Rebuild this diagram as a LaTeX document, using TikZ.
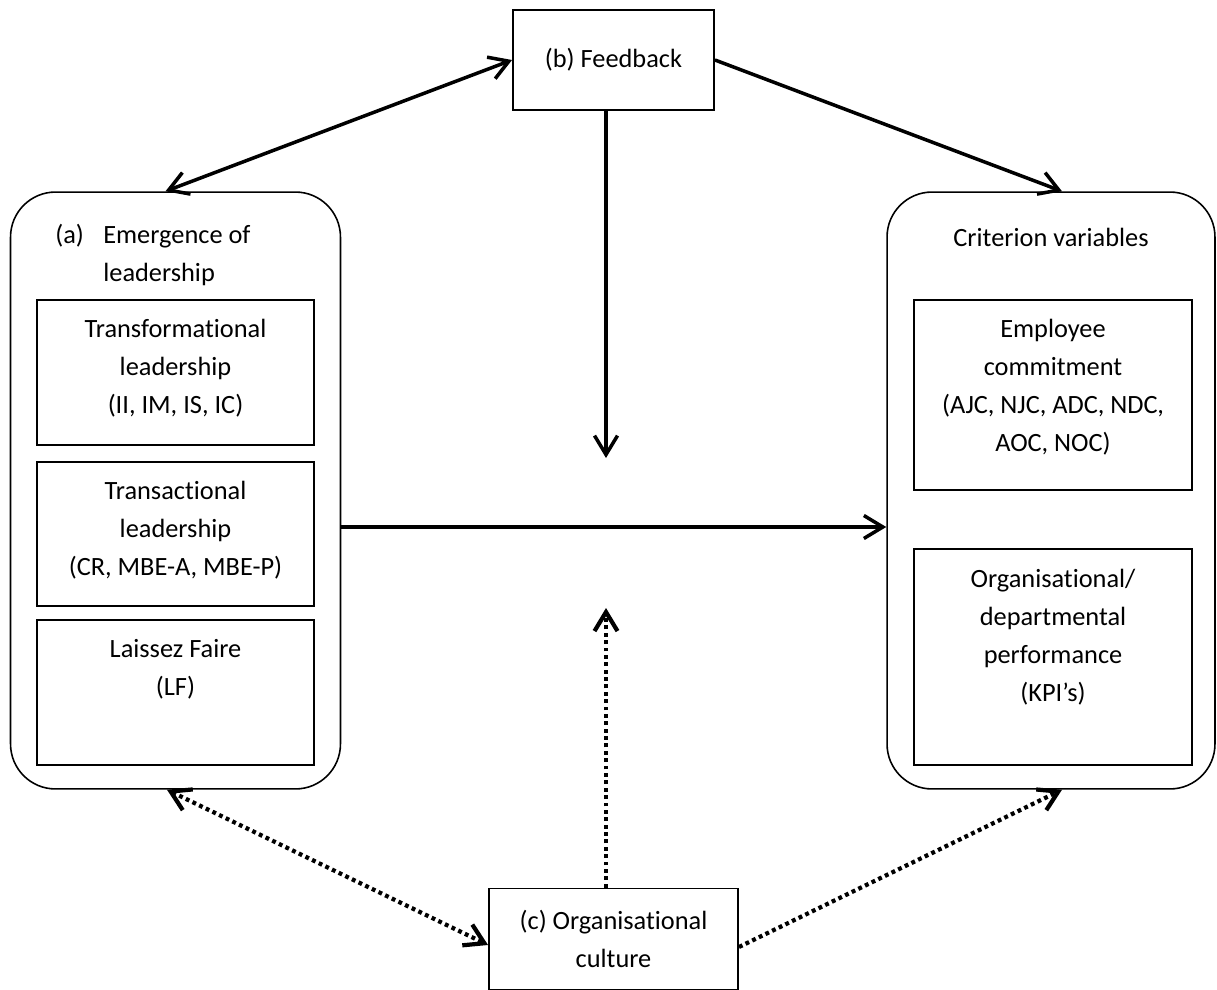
\documentclass[tikz,border=0pt]{standalone}
\usepackage{fontspec}
\setmainfont{Carlito}[Ligatures=NoCommon]
\usetikzlibrary{arrows.meta,positioning}

\tikzset{
  >={Straight Barb[length=3.8mm,width=4.6mm]},
  outerbox/.style={draw, line width=0.9pt, rounded corners=0.9cm, inner sep=0pt, minimum width=6.6cm, minimum height=11.94cm},
  innerbox/.style={draw, line width=1.1pt, inner sep=0pt, minimum width=5.54cm},
  plainbox/.style={draw, line width=1.1pt, align=center, font=\fontsize{15}{21.6}\selectfont},
  boxtext/.style={align=center, inner sep=0pt, font=\fontsize{15}{21.6}\selectfont},
  solidarrow/.style={line width=2pt},
  dotarrow/.style={line width=2.4pt, dash pattern=on 2.2pt off 2pt}
}

\begin{document}
\begin{tikzpicture}[x=0.02cm,y=-0.02cm]
\useasboundingbox (0,0) rectangle (1217,990);

% Emergence of leadership
\node[outerbox] (lead) at (175.5,490.5) {};
\node[boxtext, align=left, anchor=north west] (leadt) at (55,224)
  {\makebox[0.96cm][l]{(a)}Emergence of\\\hspace*{0.96cm}leadership};

\node[innerbox, minimum height=2.9cm] (trf) at (175.5,372.5) {};
\node[boxtext, below=0.4cm of trf.north] (trft) {Transformational\\leadership\\(II, IM, IS, IC)};

\node[innerbox, minimum height=2.88cm] (trs) at (175.5,534) {};
\node[boxtext, below=0.4cm of trs.north] (trst) {Transactional\\leadership\\(CR, MBE-A, MBE-P)};

\node[innerbox, minimum height=2.9cm] (lf) at (175.5,692.5) {};
\node[boxtext, below=0.4cm of lf.north] (lft) {Laissez Faire\\(LF)};

% Criterion variables
\node[outerbox, minimum width=6.56cm] (crit) at (1051,490.5) {};
\node[boxtext] (critt) at (1051,237) {Criterion variables};

\node[innerbox, minimum width=5.56cm, minimum height=3.8cm] (emp) at (1053,395) {};
\node[boxtext, below=0.4cm of emp.north] (empt) {Employee\\commitment\\(AJC, NJC, ADC, NDC,\\AOC, NOC)};

\node[innerbox, minimum width=5.56cm, minimum height=4.32cm] (org) at (1053,657) {};
\node[boxtext, below=0.42cm of org.north] (orgt) {Organisational/\\departmental\\performance\\(KPI’s)};

% Feedback and culture
\node[plainbox, minimum width=4.02cm, minimum height=2cm] (fb) at (613.5,60) {(b) Feedback};
\node[plainbox, minimum width=4.98cm, minimum height=2.02cm] (cult) at (613.5,939) {(c) Organisational\\culture};

\coordinate (fbtip) at (606,458);
\coordinate (cultip) at (606,608);

% Connectors
\draw[solidarrow, <->] (fb.west) -- ([xshift=-0.2cm]lead.north);
\draw[solidarrow, ->] (fb.east) -- ([xshift=0.22cm]crit.north);
\draw[solidarrow, ->] (fbtip |- fb.south) -- (fbtip);
\draw[solidarrow, ->] ([yshift=-0.73cm]lead.east) -- ([yshift=-0.73cm]crit.west);

\draw[dotarrow, ->] (cultip |- cult.north) -- (cultip);
\draw[dotarrow, <->] ([xshift=-0.17cm]lead.south) -- ([yshift=-0.12cm]cult.west);
\draw[dotarrow, ->] ([yshift=-0.16cm]cult.east) -- ([xshift=0.22cm]crit.south);

\end{tikzpicture}
\end{document}
